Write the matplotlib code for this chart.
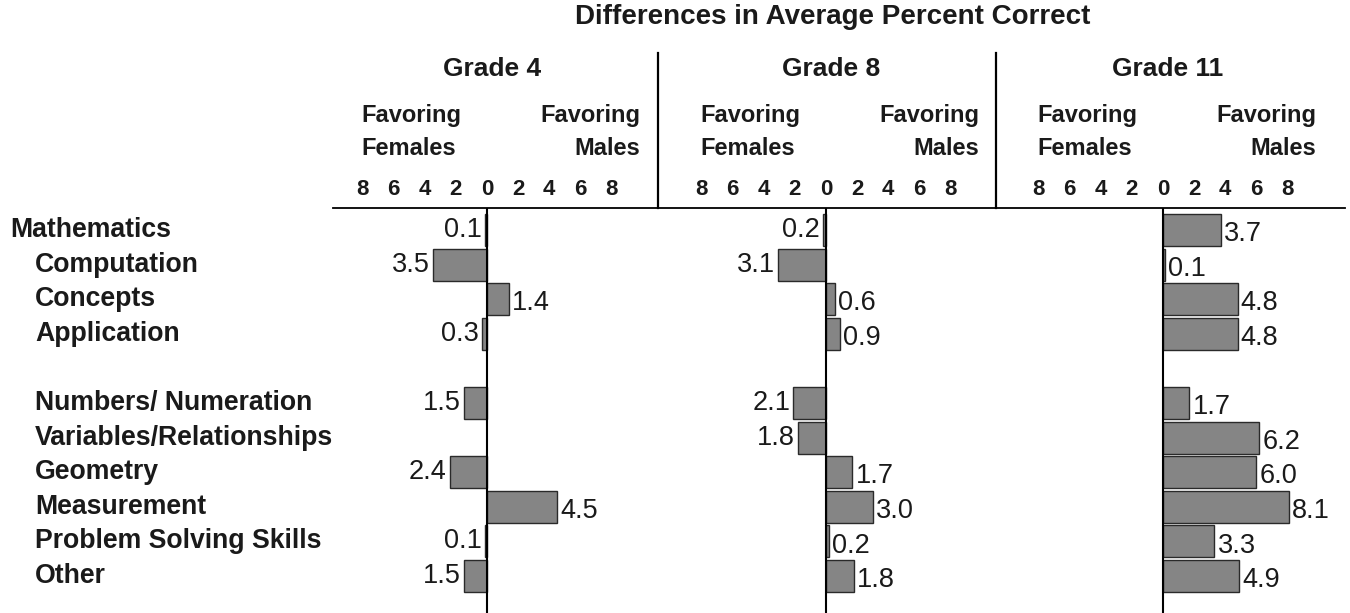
import numpy as np
import matplotlib
matplotlib.use("Agg")
import matplotlib.pyplot as plt
import matplotlib.transforms as mtransforms
from matplotlib.lines import Line2D

plt.rcParams['font.family'] = ['Liberation Sans', 'DejaVu Sans']

# ---------------- data ----------------
categories = ["Mathematics", "Computation", "Concepts", "Application",
              "Numbers/ Numeration", "Variables/Relationships", "Geometry",
              "Measurement", "Problem Solving Skills", "Other"]
indented = [False, True, True, True, True, True, True, True, True, True]
row_pos = [0, 1, 2, 3, 5, 6, 7, 8, 9, 10]
grades = ["Grade 4", "Grade 8", "Grade 11"]
# negative = favoring females, positive = favoring males
grade4 = [-0.1, -3.5, 1.4, -0.3, -1.5, np.nan, -2.4, 4.5, -0.1, -1.5]
grade8 = [-0.2, -3.1, 0.6, 0.9, -2.1, -1.8, 1.7, 3.0, 0.2, 1.8]
grade11 = [3.7, 0.1, 4.8, 4.8, 1.7, 6.2, 6.0, 8.1, 3.3, 4.9]
series = [grade4, grade8, grade11]
tick_values = [-8, -6, -4, -2, 0, 2, 4, 6, 8]
tick_labels = ["8", "6", "4", "2", "0", "2", "4", "6", "8"]
title = "Differences in Average Percent Correct"

# ---------------- layout ----------------
W, H = 1350, 613
fig = plt.figure(figsize=(W / 100, H / 100), dpi=100)

def fx(px):
    return px / W

def fy(py):
    return 1 - py / H

centers = [487, 826, 1163]
half_w = 168
axes_top, axes_bot = 208, 613
XL = 10.8
row_top_px, row_px = 230, 34.6
ylim_top = -(row_top_px - axes_top) / row_px
ylim_bot = (axes_bot - row_top_px) / row_px

bar_face = "#858585"
bar_edge = "#2a2a2a"
txt = "#1a1a1a"

axes = []
for gi, (c, vals) in enumerate(zip(centers, series)):
    ax = fig.add_axes([fx(c - half_w), fy(axes_bot), fx(2 * half_w),
                       (axes_bot - axes_top) / H])
    ax.set_xlim(-XL, XL)
    ax.set_ylim(ylim_bot, ylim_top)
    for s in ax.spines.values():
        s.set_visible(False)
    ax.set_yticks([])
    ax.xaxis.tick_top()
    ax.set_xticks(tick_values)
    ax.set_xticklabels(tick_labels, fontsize=16, fontweight="bold", color=txt)
    ax.tick_params(axis="x", length=0, pad=6)
    ax.patch.set_alpha(0)

    v = np.array(vals, dtype=float)
    ok = ~np.isnan(v)
    ax.barh(np.array(row_pos)[ok], v[ok], height=0.92, color=bar_face,
            edgecolor=bar_edge, linewidth=1.0, zorder=2)
    ax.axvline(0, color="black", linewidth=1.5, zorder=3)
    for y, val in zip(row_pos, vals):
        if np.isnan(val):
            continue
        if val < 0:
            ax.text(val - 0.2, y, f"{abs(val):.1f}", ha="right", va="center",
                    fontsize=19.5, color=txt)
        else:
            ax.text(val + 0.2, y + 0.12, f"{val:.1f}", ha="left", va="center",
                    fontsize=19.5, color=txt)

    tr = mtransforms.blended_transform_factory(ax.transData, fig.transFigure)
    ax.text(0.3, fy(69), grades[gi], transform=tr, ha="center", va="center",
            fontsize=19, fontweight="bold", color=txt)
    ax.text(-8.1, fy(132), "Favoring\nFemales", transform=tr, ha="left",
            va="center", fontsize=17, fontweight="bold", color=txt,
            linespacing=1.6, multialignment="left")
    ax.text(9.85, fy(132), "Favoring\nMales", transform=tr, ha="right",
            va="center", fontsize=17, fontweight="bold", color=txt,
            linespacing=1.6, multialignment="right")
    axes.append(ax)

# row labels
ax0 = axes[0]
trl = mtransforms.blended_transform_factory(fig.transFigure, ax0.transData)
for name, ind, y in zip(categories, indented, row_pos):
    ax0.text(fx(35 if ind else 10), y, name, transform=trl, ha="left",
             va="center", fontsize=19.2, fontweight="bold", color=txt,
             clip_on=False)

# title
fig.text(fx(833), fy(17), title, ha="center", va="center", fontsize=20,
         fontweight="bold", color=txt)

# header rule and dividers
fig.add_artist(Line2D([fx(333), fx(1345)], [fy(208), fy(208)],
                      transform=fig.transFigure, color="black", linewidth=1.3))
for xd in [658, 996]:
    fig.add_artist(Line2D([fx(xd), fx(xd)], [fy(53), fy(208)],
                          transform=fig.transFigure, color="black",
                          linewidth=1.6))

fig.savefig("out.png", dpi=100)
